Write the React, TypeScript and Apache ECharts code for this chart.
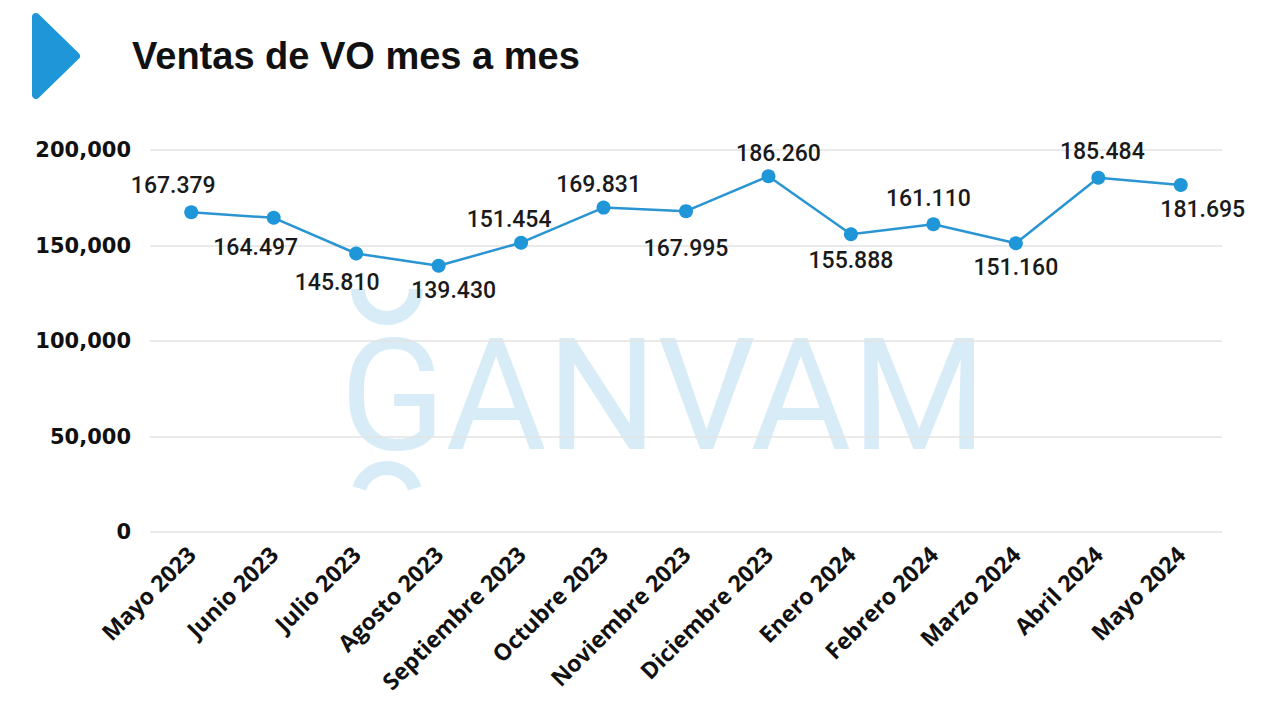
import React, { useEffect, useRef } from "react";
import * as echarts from "echarts";

const categories = [
  "Mayo 2023", "Junio 2023", "Julio 2023", "Agosto 2023", "Septiembre 2023",
  "Octubre 2023", "Noviembre 2023", "Diciembre 2023", "Enero 2024",
  "Febrero 2024", "Marzo 2024", "Abril 2024", "Mayo 2024",
];
const ventas = [
  167379, 164497, 145810, 139430, 151454, 169831, 167995, 186260, 155888,
  161110, 151160, 185484, 181695,
];
const labelOffsets: [number, number][] = [
  [-18, -27], [-18, 30], [-19, 29], [15, 25], [-12, -23], [-5, -23], [0, 37],
  [10, -23], [0, 26], [-5, -26], [0, 24], [4, -26], [22, 25],
];
const yTicks = { min: 0, max: 200000, interval: 50000 };
const title = "Ventas de VO mes a mes";
const watermark = "GANVAM";

const fmtLabel = (v: number) =>
  Math.floor(v / 1000) + "." + String(v % 1000).padStart(3, "0");
const fmtAxis = (v: number) =>
  v === 0 ? "0" : Math.floor(v / 1000) + "," + String(v % 1000).padStart(3, "0");

export default function App() {
  const ref = useRef<HTMLDivElement>(null);
  useEffect(() => {
    if (!ref.current) return;
    const chart = echarts.init(ref.current, null, { renderer: "svg" });
    const wmColor = "#d8ecf8";
    chart.setOption({
      animation: false,
      backgroundColor: "#ffffff",
      graphic: [
        {
          type: "polygon",
          shape: { points: [[36, 17], [76, 56], [36, 95]] },
          style: { fill: "#1e96d8", stroke: "#1e96d8", lineWidth: 8, lineJoin: "round" },
        },
        {
          type: "text",
          x: 132,
          y: 56,
          style: {
            text: title,
            fill: "#111111",
            font: "bold 38px 'Liberation Sans', Arial, sans-serif",
            textVerticalAlign: "middle",
          },
        },
        {
          type: "text",
          z: -10,
          x: 340,
          y: 396,
          style: {
            text: watermark,
            fill: wmColor,
            font: "400 155px Roboto, 'Liberation Sans', sans-serif",
            lineHeight: 112,
            textVerticalAlign: "middle",
          },
        },
        {
          type: "arc",
          z: -10,
          shape: { cx: 387, cy: 289, r: 29, startAngle: 0, endAngle: Math.PI, clockwise: true },
          style: { stroke: wmColor, lineWidth: 14, fill: "none" },
        },
        {
          type: "arc",
          z: -10,
          shape: { cx: 387, cy: 497, r: 29, startAngle: Math.PI + 0.3, endAngle: 2 * Math.PI - 0.3, clockwise: true },
          style: { stroke: wmColor, lineWidth: 14, fill: "none" },
        },
      ],
      grid: { left: 150, right: 58, top: 150, bottom: 188, containLabel: false },
      xAxis: {
        type: "category",
        data: categories,
        boundaryGap: true,
        axisLine: { show: false },
        axisTick: { show: false },
        axisLabel: {
          rotate: 45,
          margin: 18,
          interval: 0,
          color: "#111111",
          fontFamily: "'Open Sans', sans-serif",
          fontWeight: "bold",
          fontSize: 23,
        },
      },
      yAxis: {
        type: "value",
        min: yTicks.min,
        max: yTicks.max,
        interval: yTicks.interval,
        axisLine: { show: false },
        axisTick: { show: false },
        splitLine: { lineStyle: { color: "#e3e3e3", width: 1.5 } },
        axisLabel: {
          margin: 19,
          color: "#111111",
          fontFamily: "'DejaVu Sans', sans-serif",
          fontWeight: "bold",
          fontSize: 21,
          formatter: (v: number) => fmtAxis(v),
        },
      },
      series: [
        {
          type: "line",
          data: ventas.map((v, i) => ({
            value: v,
            label: { offset: labelOffsets[i] },
          })),
          symbol: "circle",
          symbolSize: 14,
          lineStyle: { color: "#2a95d2", width: 2.5 },
          itemStyle: { color: "#1e96d8" },
          label: {
            show: true,
            position: "inside",
            color: "#1a1a1a",
            fontFamily: "Roboto, 'Liberation Sans', sans-serif",
            fontWeight: 500,
            fontSize: 23,
            formatter: (p: any) => fmtLabel(p.value),
          },
          z: 5,
        },
      ],
    });
    return () => chart.dispose();
  }, []);
  return <div ref={ref} style={{ width: 1280, height: 720, position: "absolute", left: 0, top: 0 }} />;
}
